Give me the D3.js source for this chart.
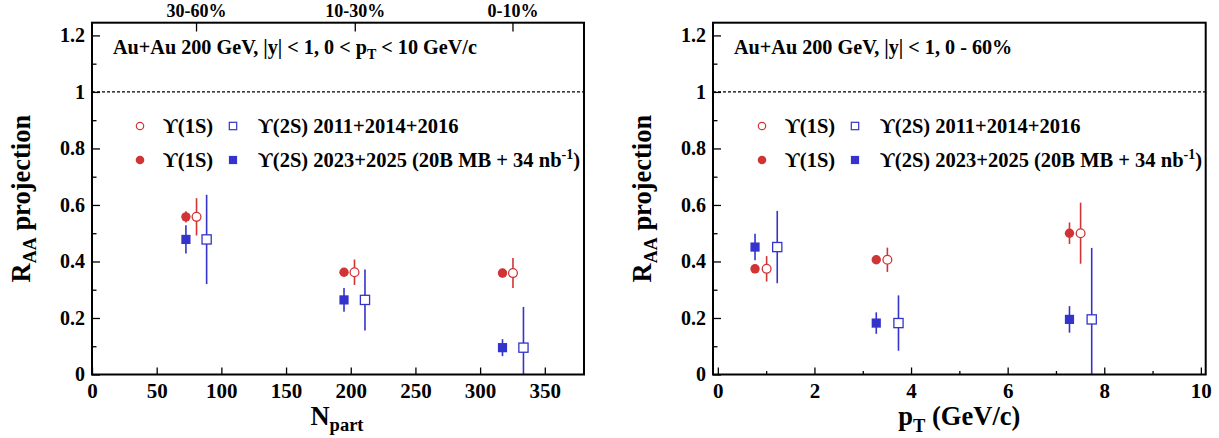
<!DOCTYPE html>
<html>
<head>
<meta charset="utf-8">
<script src="https://cdn.jsdelivr.net/npm/d3@7"></script>
<style>
  html, body { margin: 0; padding: 0; background: #fff; }
  svg { display: block; }
  text { font-family: "Liberation Serif", "DejaVu Serif", serif; font-weight: bold; fill: #000; }
</style>
</head>
<body>
<svg id="chart" width="1219" height="438"></svg>
<script>
// ---------- Data: left panel (vs Npart) ----------
const centralityLabels = ["30-60%", "10-30%", "0-10%"];
const centralityNpart = [80.8, 203.5, 325.4];

const npart1SNew = [72.6, 194.8, 317.3];
const raa1SNewN  = [0.558, 0.362, 0.359];
const err1SNewN  = [0.020, 0.010, 0.015];

const npart1SOld = [80.8, 202.9, 325.4];
const raa1SOldN  = [0.558, 0.362, 0.359];
const err1SOldN  = [0.066, 0.045, 0.053];

const npart2SNew = [72.6, 194.8, 317.3];
const raa2SNewN  = [0.478, 0.264, 0.095];
const err2SNewN  = [0.050, 0.042, 0.030];

const npart2SOld = [88.6, 211.0, 333.5];
const raa2SOldN  = [0.478, 0.264, 0.095];
const err2SOldN  = [0.158, 0.108, 0.144];

// ---------- Data: right panel (vs pT) ----------
const pt1SNew   = [0.77, 3.28, 7.28];
const raa1SNewP = [0.374, 0.406, 0.500];
const err1SNewP = [0.010, 0.010, 0.038];

const pt1SOld   = [1.01, 3.51, 7.51];
const raa1SOldP = [0.374, 0.406, 0.500];
const err1SOldP = [0.045, 0.043, 0.108];

const pt2SNew   = [0.77, 3.28, 7.28];
const raa2SNewP = [0.451, 0.182, 0.195];
const err2SNewP = [0.047, 0.038, 0.047];

const pt2SOld   = [1.23, 3.74, 7.74];
const raa2SOldP = [0.451, 0.182, 0.195];
const err2SOldP = [0.128, 0.098, 0.253];

// tick definitions
const yMajorTicks = [0, 0.2, 0.4, 0.6, 0.8, 1.0, 1.2];
const yMinorTicks = [0.1, 0.3, 0.5, 0.7, 0.9, 1.1];
const npartTicks = [0, 50, 100, 150, 200, 250, 300, 350];
const ptMajorTicks = [0, 2, 4, 6, 8, 10];
const ptMinorTicks = [1, 3, 5, 7, 9];

const RED = "#d03434";
const BLUE = "#3434cc";

const svg = d3.select("#chart");
svg.append("rect").attr("width", 1219).attr("height", 438).attr("fill", "#fff");

function panel(opts) {
  const { x0, x1, y0, y1, xDomain, xMajor, xMinor, series, title, legendX, yTitleX, xTitle } = opts;
  const g = svg.append("g");
  const x = d3.scaleLinear().domain(xDomain).range([x0, x1]);
  const y = d3.scaleLinear().domain([0, 1.245]).range([y1, y0]);

  // dashed line at 1
  g.append("line").attr("x1", x0).attr("x2", x1).attr("y1", y(1)).attr("y2", y(1))
    .attr("stroke", "#000").attr("stroke-width", 1.3).attr("stroke-dasharray", "3,2");

  // Y axis
  const yAx = g.append("g").attr("transform", `translate(${x0},0)`)
    .call(d3.axisLeft(y).tickValues(yMajorTicks).tickSize(-8).tickPadding(7).tickFormat(d3.format("~g")));
  yAx.select(".domain").remove();
  yAx.selectAll("line").attr("stroke", "#000").attr("stroke-width", 1.3);
  yAx.selectAll("text").attr("font-size", 20).attr("font-family", "Liberation Serif").attr("font-weight", "bold").attr("fill", "#000");
  const yMin = g.append("g").attr("transform", `translate(${x0},0)`)
    .call(d3.axisLeft(y).tickValues(yMinorTicks).tickSize(-4.5).tickFormat(""));
  yMin.select(".domain").remove();
  yMin.selectAll("line").attr("stroke", "#000").attr("stroke-width", 1.3);

  // X axis
  const xAx = g.append("g").attr("transform", `translate(0,${y1})`)
    .call(d3.axisBottom(x).tickValues(xMajor).tickSize(-7).tickPadding(9).tickFormat(d3.format("~g")));
  xAx.select(".domain").remove();
  xAx.selectAll("line").attr("stroke", "#000").attr("stroke-width", 1.3);
  xAx.selectAll("text").attr("font-size", 21).attr("font-family", "Liberation Serif").attr("font-weight", "bold").attr("fill", "#000");
  if (xMinor) {
    const xMin = g.append("g").attr("transform", `translate(0,${y1})`)
      .call(d3.axisBottom(x).tickValues(xMinor).tickSize(-3.5).tickFormat(""));
    xMin.select(".domain").remove();
    xMin.selectAll("line").attr("stroke", "#000").attr("stroke-width", 1.3);
  }

  // data
  series.forEach(s => {
    const sg = g.append("g");
    s.xs.forEach((xv, i) => {
      const v = s.ys[i], e = s.es[i];
      const lo = Math.max(0, v - e), hi = v + e;
      sg.append("line").attr("x1", x(xv)).attr("x2", x(xv))
        .attr("y1", y(lo)).attr("y2", y(hi))
        .attr("stroke", s.color).attr("stroke-width", 1.6);
    });
    s.xs.forEach((xv, i) => {
      const cx = x(xv), cy = y(s.ys[i]);
      if (s.shape === "circle") {
        const r = s.open ? 4.4 : 4.7;
        sg.append("circle").attr("cx", cx).attr("cy", cy).attr("r", r)
          .attr("fill", s.open ? "#fff" : s.color)
          .attr("stroke", s.color).attr("stroke-width", s.open ? 1.3 : 0);
      } else {
        const h = 4.6;
        sg.append("rect").attr("x", cx - h).attr("y", cy - h).attr("width", 2 * h).attr("height", 2 * h)
          .attr("fill", s.open ? "#fff" : s.color)
          .attr("stroke", s.color).attr("stroke-width", s.open ? 1.3 : 0);
      }
    });
  });

  // frame
  g.append("rect").attr("x", x0).attr("y", y0).attr("width", x1 - x0).attr("height", y1 - y0)
    .attr("fill", "none").attr("stroke", "#000").attr("stroke-width", 2);

  // title text
  const t = g.append("text").attr("x", x0 + 21).attr("y", 54).attr("font-size", 20.2);
  title(t);

  // legend
  const lx = x0 + legendX;
  const rows = [
    { y: 126, open: true },
    { y: 160, open: false }
  ];
  rows.forEach(r => {
    g.append("circle").attr("cx", lx).attr("cy", r.y).attr("r", r.open ? 3.7 : 4.3)
      .attr("fill", r.open ? "#fff" : RED).attr("stroke", RED).attr("stroke-width", r.open ? 1.2 : 0);
    g.append("text").attr("x", lx + 23).attr("y", r.y + 6.5).attr("font-size", 20.5).text("ϒ(1S)");
    const h = r.open ? 3.7 : 4.1;
    g.append("rect").attr("x", lx + 93 - h).attr("y", r.y - h).attr("width", 2 * h).attr("height", 2 * h)
      .attr("fill", r.open ? "#fff" : BLUE).attr("stroke", BLUE).attr("stroke-width", r.open ? 1.2 : 0);
    const tt = g.append("text").attr("x", lx + 118).attr("y", r.y + 6.5).attr("font-size", 20.5);
    if (r.open) {
      tt.text("ϒ(2S) 2011+2014+2016");
    } else {
      tt.append("tspan").text("ϒ(2S) 2023+2025 (20B MB + 34 nb");
      tt.append("tspan").attr("font-size", 14).attr("dy", -8).text("-1");
      tt.append("tspan").attr("dy", 8).text(")");
    }
  });

  // y title
  const yt = g.append("text").attr("transform", `translate(${yTitleX},${(y0 + y1) / 2}) rotate(-90)`)
    .attr("text-anchor", "middle").attr("font-size", 26.5);
  yt.append("tspan").text("R");
  yt.append("tspan").attr("font-size", 18).attr("dy", 6).text("AA");
  yt.append("tspan").attr("dy", -6).text(" projection");

  // x title
  xTitle(g, (x0 + x1) / 2);
  return { x, y, g };
}

// Left panel
const left = panel({
  x0: 92, x1: 584, y0: 22.7, y1: 374.5,
  xDomain: [0, 380.3], xMajor: npartTicks, xMinor: null,
  series: [
    { xs: npart1SNew, ys: raa1SNewN, es: err1SNewN, color: RED, shape: "circle", open: false },
    { xs: npart1SOld, ys: raa1SOldN, es: err1SOldN, color: RED, shape: "circle", open: true },
    { xs: npart2SNew, ys: raa2SNewN, es: err2SNewN, color: BLUE, shape: "square", open: false },
    { xs: npart2SOld, ys: raa2SOldN, es: err2SOldN, color: BLUE, shape: "square", open: true }
  ],
  title: t => {
    t.append("tspan").text("Au+Au 200 GeV, |y| < 1, 0 < p");
    t.append("tspan").attr("font-size", 14).attr("dy", 5).text("T");
    t.append("tspan").attr("dy", -5).text(" < 10 GeV/c");
  },
  legendX: 48, yTitleX: 30,
  xTitle: (g, cx) => {
    const t = g.append("text").attr("x", cx - 1).attr("y", 424.5).attr("text-anchor", "middle").attr("font-size", 26.5);
    t.append("tspan").text("N");
    t.append("tspan").attr("font-size", 18.5).attr("dy", 6.5).text("part");
  }
});

// centrality top ticks/labels (left panel)
centralityNpart.forEach((n, i) => {
  const xx = left.x(n);
  left.g.append("line").attr("x1", xx).attr("x2", xx).attr("y1", 22.7).attr("y2", 31.5)
    .attr("stroke", "#000").attr("stroke-width", 1.3);
  left.g.append("text").attr("x", xx).attr("y", 16.5).attr("text-anchor", "middle")
    .attr("font-size", 18).text(centralityLabels[i]);
});

// Right panel
panel({
  x0: 713, x1: 1205.7, y0: 22.7, y1: 374.5,
  xDomain: [-0.1, 10.1], xMajor: ptMajorTicks, xMinor: ptMinorTicks,
  series: [
    { xs: pt1SNew, ys: raa1SNewP, es: err1SNewP, color: RED, shape: "circle", open: false },
    { xs: pt1SOld, ys: raa1SOldP, es: err1SOldP, color: RED, shape: "circle", open: true },
    { xs: pt2SNew, ys: raa2SNewP, es: err2SNewP, color: BLUE, shape: "square", open: false },
    { xs: pt2SOld, ys: raa2SOldP, es: err2SOldP, color: BLUE, shape: "square", open: true }
  ],
  title: t => { t.text("Au+Au 200 GeV, |y| < 1, 0 - 60%"); },
  legendX: 49, yTitleX: 650.5,
  xTitle: (g, cx) => {
    const t = g.append("text").attr("x", cx).attr("y", 425).attr("text-anchor", "middle").attr("font-size", 26.5);
    t.append("tspan").text("p");
    t.append("tspan").attr("font-size", 18.5).attr("dy", 6.5).text("T");
    t.append("tspan").attr("dy", -6.5).text(" (GeV/c)");
  }
});
</script>
</body>
</html>
